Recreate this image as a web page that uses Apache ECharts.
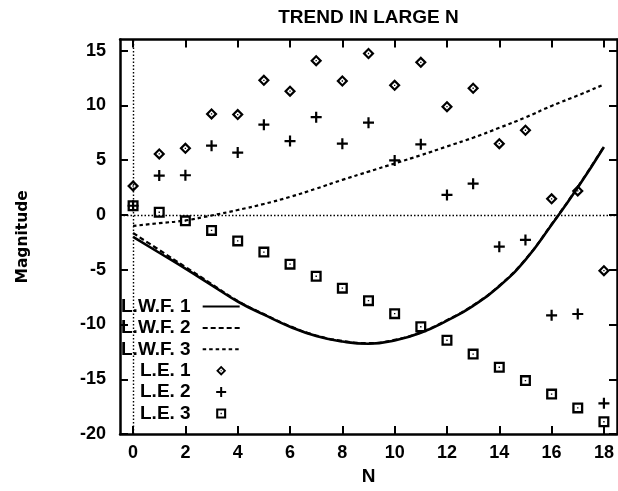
<!DOCTYPE html>
<html>
<head>
<meta charset="utf-8">
<script src="https://cdn.jsdelivr.net/npm/echarts@6/dist/echarts.min.js"></script>
<style>
  html, body { margin: 0; padding: 0; background: #fff; }
  #chart { width: 618px; height: 491px; }
</style>
</head>
<body>
<div id="chart"></div>
<script>
// Sample index N
const nValues = [0, 1, 2, 3, 4, 5, 6, 7, 8, 9, 10, 11, 12, 13, 14, 15, 16, 17, 18];

// Fitted curves
const lwf1 = [-2.0, -3.45, -4.9, -6.4, -7.9, -9.1, -10.2, -11.05, -11.55, -11.75, -11.45, -10.75, -9.65, -8.3, -6.5, -4.1, -0.9, 2.5, 6.2];
const lwf2 = [-1.65, -3.2, -4.75, -6.3, -7.85, -9.05, -10.15, -11.0, -11.5, -11.7, -11.4, -10.7, -9.6, -8.25, -6.45, -4.05, -0.85, 2.55, 6.25];
const lwf3 = [-1.0, -0.75, -0.5, -0.05, 0.45, 1.0, 1.65, 2.4, 3.2, 3.95, 4.7, 5.45, 6.25, 7.05, 7.95, 8.9, 9.95, 10.9, 11.9];

// Measured points
const le1 = [2.63, 5.57, 6.08, 9.22, 9.16, 12.28, 11.29, 14.08, 12.22, 14.73, 11.83, 13.93, 9.88, 11.56, 6.5, 7.73, 1.47, 2.19, -5.09];
const le2 = [0.84, 3.59, 3.62, 6.32, 5.69, 8.24, 6.74, 8.92, 6.5, 8.42, 4.97, 6.44, 1.83, 2.85, -2.9, -2.28, -9.16, -9.04, -17.19];
const le3 = [0.84, 0.24, -0.54, -1.41, -2.37, -3.39, -4.49, -5.6, -6.68, -7.82, -9.01, -10.2, -11.44, -12.7, -13.9, -15.12, -16.35, -17.61, -18.87];

// Axis ticks
const xTicks = [0, 2, 4, 6, 8, 10, 12, 14, 16, 18];
const yTicks = [-20, -15, -10, -5, 0, 5, 10, 15];

const seriesNames = ['L.W.F. 1', 'L.W.F. 2', 'L.W.F. 3', 'L.E. 1', 'L.E. 2', 'L.E. 3'];
const titleText = 'TREND IN LARGE N';
const xName = 'N';
const yName = 'Magnitude';

const FONT = 'Liberation Sans';
const INK = '#000';

// Outlined markers with a centre dot (outer contour clockwise, hole counter-clockwise)
const DIAMOND = 'path://M6 0L12 6L6 12L0 6Z M6 3.1L3.1 6L6 8.9L8.9 6Z M5.35 5.35L6.65 5.35L6.65 6.65L5.35 6.65Z';
const PLUS = 'path://M4.4 0L6.6 0L6.6 4.4L11 4.4L11 6.6L6.6 6.6L6.6 11L4.4 11L4.4 6.6L0 6.6L0 4.4L4.4 4.4Z';
const SQUARE = 'path://M0 0L11 0L11 11L0 11Z M2.3 2.3L2.3 8.7L8.7 8.7L8.7 2.3Z M4.8 4.8L6.2 4.8L6.2 6.2L4.8 6.2Z';

const pairs = (ys) => nValues.map((n, i) => [n, ys[i]]);

const frameLine = { show: true, onZero: false, lineStyle: { color: INK, width: 2.5 } };
const innerTick = (vals) => ({ show: true, inside: true, length: 8, customValues: vals, lineStyle: { color: INK, width: 2 } });

// Line entries in the key show only their stroke sample
const legendData = seriesNames.map((name, i) =>
  i < 3 ? { name: name, itemStyle: { opacity: 0 } } : { name: name }
);

const chart = echarts.init(document.getElementById('chart'), null, { renderer: 'canvas' });

chart.setOption({
  animation: false,
  backgroundColor: '#fff',
  grid: { left: 120, right: 1, top: 39.6, bottom: 52, containLabel: false },
  legend: {
    orient: 'vertical',
    align: 'right',
    left: 121,
    top: 297,
    padding: 0,
    itemWidth: 37,
    itemHeight: 10,
    itemGap: 2.4,
    selectedMode: false,
    data: legendData,
    textStyle: { fontFamily: FONT, fontSize: 19, fontWeight: 'bold', color: INK, padding: [0, 7, 0, 0] }
  },
  xAxis: [
    {
      type: 'value', position: 'bottom', min: -0.5, max: 18.5,
      name: xName, nameLocation: 'middle', nameGap: 30,
      nameTextStyle: { fontFamily: FONT, fontSize: 19, fontWeight: 'bold', color: INK },
      axisLine: frameLine,
      axisTick: innerTick(xTicks),
      axisLabel: { customValues: xTicks, margin: 10, fontFamily: FONT, fontSize: 18, fontWeight: 'bold', color: INK },
      splitLine: { show: false }
    },
    {
      type: 'value', position: 'top', min: -0.5, max: 18.5,
      name: titleText, nameLocation: 'middle', nameGap: 12,
      nameTextStyle: { fontFamily: FONT, fontSize: 19, fontWeight: 'bold', color: INK },
      axisLine: frameLine,
      axisTick: innerTick(xTicks),
      axisLabel: { show: false },
      splitLine: { show: false }
    }
  ],
  yAxis: [
    {
      type: 'value', position: 'left', min: -20, max: 16,
      name: yName, nameLocation: 'middle', nameRotate: 90, nameGap: 89,
      nameTextStyle: { fontFamily: 'DejaVu Sans', fontSize: 15.5, fontWeight: 'bold', color: INK },
      axisLine: frameLine,
      axisTick: innerTick(yTicks),
      axisLabel: { customValues: yTicks, margin: 14, fontFamily: FONT, fontSize: 18, fontWeight: 'bold', color: INK },
      splitLine: { show: false }
    },
    {
      type: 'value', position: 'right', min: -20, max: 16,
      axisLine: frameLine,
      axisTick: innerTick(yTicks),
      axisLabel: { show: false },
      splitLine: { show: false }
    }
  ],
  series: [
    {
      name: seriesNames[0], type: 'line', data: pairs(lwf1), smooth: true, symbol: 'none',
      lineStyle: { color: INK, width: 2.6, type: 'solid' }, itemStyle: { color: INK }, z: 3,
      markLine: {
        silent: true, symbol: ['none', 'none'], label: { show: false },
        lineStyle: { color: INK, width: 1.4, type: [1.5, 2] },
        data: [{ xAxis: 0 }, { yAxis: 0 }]
      }
    },
    {
      name: seriesNames[1], type: 'line', data: pairs(lwf2), smooth: true, symbol: 'none',
      lineStyle: { color: INK, width: 2.2, type: [5, 3] }, itemStyle: { color: INK }, z: 2
    },
    {
      name: seriesNames[2], type: 'line', data: pairs(lwf3), smooth: true, symbol: 'none',
      lineStyle: { color: INK, width: 2.2, type: [3.5, 3] }, itemStyle: { color: INK }, z: 2
    },
    {
      name: seriesNames[3], type: 'scatter', data: pairs(le1), symbol: DIAMOND, symbolSize: 12,
      itemStyle: { color: INK, opacity: 1 }, z: 4
    },
    {
      name: seriesNames[4], type: 'scatter', data: pairs(le2), symbol: PLUS, symbolSize: 11,
      itemStyle: { color: INK, opacity: 1 }, z: 4
    },
    {
      name: seriesNames[5], type: 'scatter', data: pairs(le3), symbol: SQUARE, symbolSize: 11,
      itemStyle: { color: INK, opacity: 1 }, z: 4
    }
  ]
});
</script>
</body>
</html>
